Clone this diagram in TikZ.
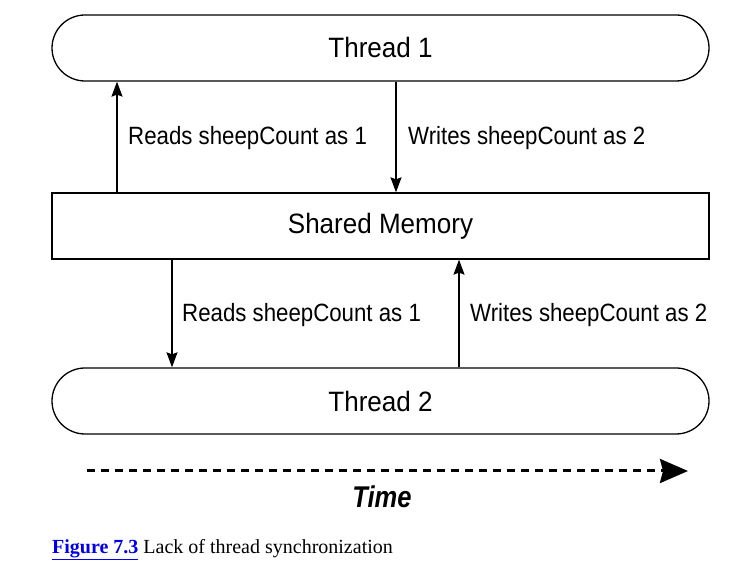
\documentclass[tikz,border=0pt]{standalone}
\usepackage{fontspec}
\setmainfont{Liberation Serif}
\newfontfamily\boxfont[FakeStretch=0.93]{Liberation Sans}
\newfontfamily\lblfont[FakeStretch=0.89]{Liberation Sans}
\newfontfamily\timefont[FakeStretch=0.85]{Liberation Sans}
\usetikzlibrary{arrows.meta}
\definecolor{linkblue}{RGB}{0,0,238}
\begin{document}
\begin{tikzpicture}[x=1pt,y=1pt,
  box/.style={draw, line width=1.3pt, minimum width=657pt, minimum height=66pt, inner sep=0pt, font=\boxfont\fontsize{28}{32}\selectfont},
  pill/.style={box, rounded corners=33pt},
  arr/.style={line width=1.3pt, -{Stealth[length=15pt,width=11pt,inset=2pt]}},
  lbl/.style={anchor=west, inner sep=0pt, font=\lblfont\fontsize{25}{30}\selectfont}]
\useasboundingbox (0,0) rectangle (733,572);
\node[pill] (t1) at (380.5,524) {Thread 1};
\node[box] (sm) at (380.5,346) {Shared Memory};
\node[pill] (t2) at (380.5,171) {Thread 2};
% top arrows
\draw[arr] (sm.north -| 117,0) -- (t1.south -| 117,0);
\draw[arr] (t1.south -| 396,0) -- (sm.north -| 396,0);
\node[lbl] (l1) at (128,434) {Reads sheepCount as 1};
\node[lbl] (l2) at (408,434) {Writes sheepCount as 2};
% bottom arrows
\draw[arr] (sm.south -| 172,0) -- (t2.north -| 172,0);
\draw[arr] (t2.north -| 459,0) -- (sm.south -| 459,0);
\node[lbl] (l3) at (182,257) {Reads sheepCount as 1};
\node[lbl] (l4) at (470,257) {Writes sheepCount as 2};
% time
\coordinate (ts) at (87,101);
\coordinate (te) at (688,101);
\draw[line width=3pt, dash pattern=on 8pt off 6pt, -{Stealth[length=28pt,width=24pt,inset=3pt]}] (ts) -- (te);
\node[font=\timefont\fontsize{30}{34}\selectfont\bfseries\itshape] (time) at (382,75) {Time};
% caption
\node[anchor=west, inner sep=0pt, font=\fontsize{20}{23}\selectfont] (cap) at (52,22) {\textcolor{linkblue}{\textbf{\underline{Figure 7.3}}} Lack of thread synchronization};
\end{tikzpicture}
\end{document}
